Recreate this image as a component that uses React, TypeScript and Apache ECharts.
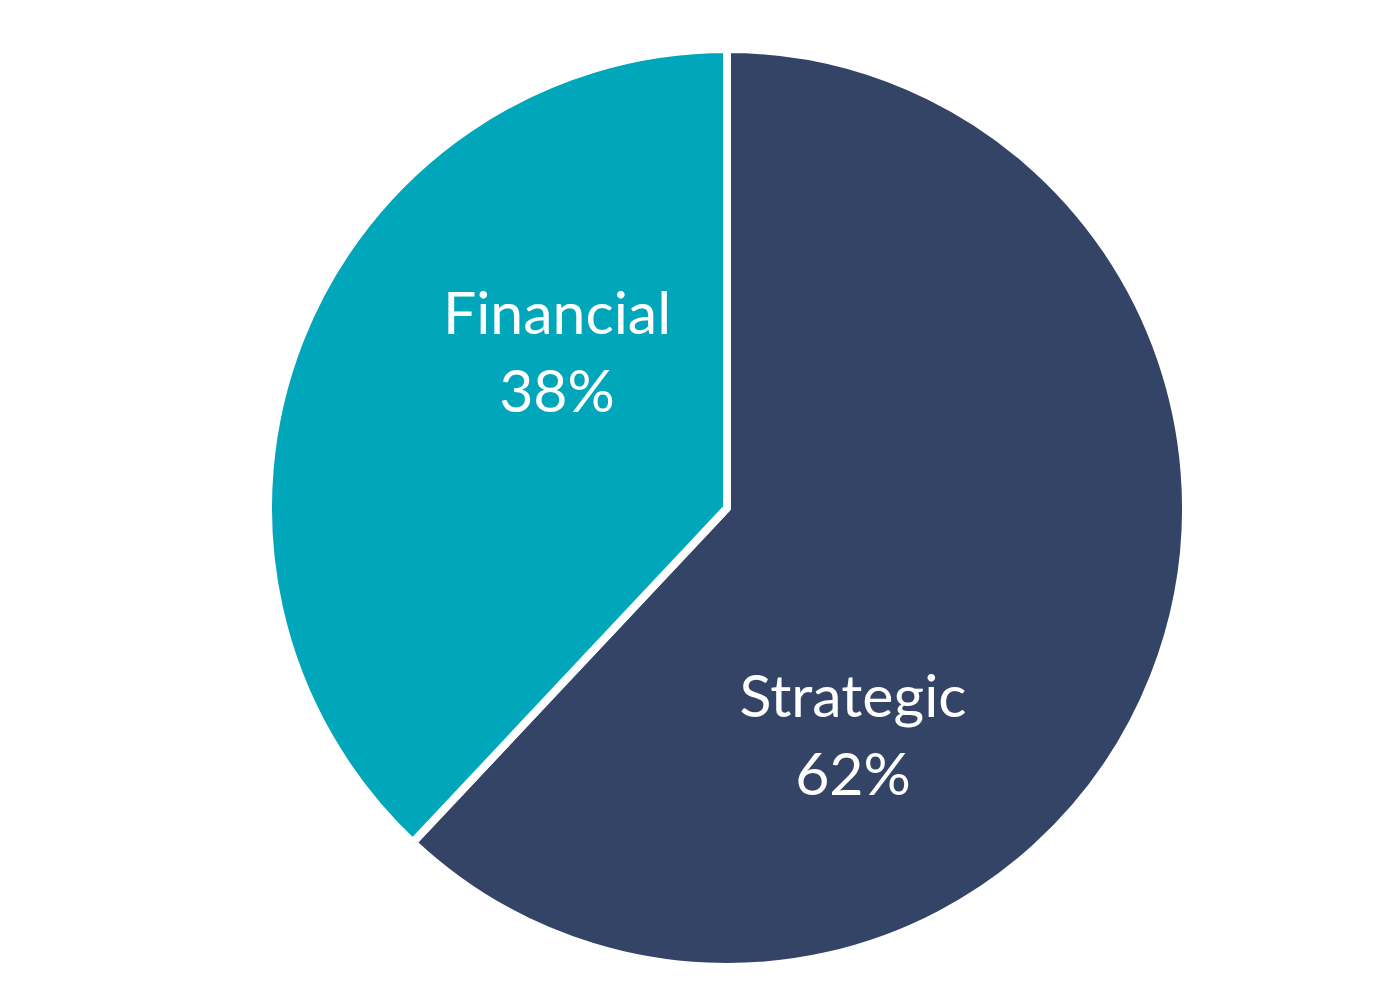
import React, { useEffect, useRef } from "react";
import * as echarts from "echarts";

const categories = ["Strategic", "Financial"];
const values = [62, 38];
const colors = ["#334466", "#00A6B9"];
const labelSpots = [
  [853, 733],
  [557, 350],
];

export default function App() {
  const ref = useRef<HTMLDivElement>(null);
  useEffect(() => {
    const chart = echarts.init(ref.current!, null, { renderer: "svg" });
    chart.setOption({
      animation: false,
      backgroundColor: "#ffffff",
      series: [
        {
          type: "pie",
          center: [727, 508],
          radius: 459,
          startAngle: 90,
          clockwise: true,
          data: categories.map((c, i) => ({
            name: c,
            value: values[i],
            itemStyle: { color: colors[i] },
          })),
          itemStyle: { borderColor: "#ffffff", borderWidth: 8 },
          label: {
            show: true,
            position: "inside",
            formatter: (p: any) => `${p.name}\n${p.value}%`,
            color: "#ffffff",
            fontFamily: "Lato",
            fontSize: 59,
            lineHeight: 78,
          },
          labelLine: { show: false },
          labelLayout: (p: any) => ({
            x: labelSpots[p.dataIndex][0],
            y: labelSpots[p.dataIndex][1],
            align: "center",
            verticalAlign: "middle",
          }),
          emphasis: { disabled: true },
        },
      ],
    });
    return () => chart.dispose();
  }, []);
  return (
    <div
      ref={ref}
      style={{ position: "absolute", left: 0, top: 0, width: 1400, height: 1002 }}
    />
  );
}
